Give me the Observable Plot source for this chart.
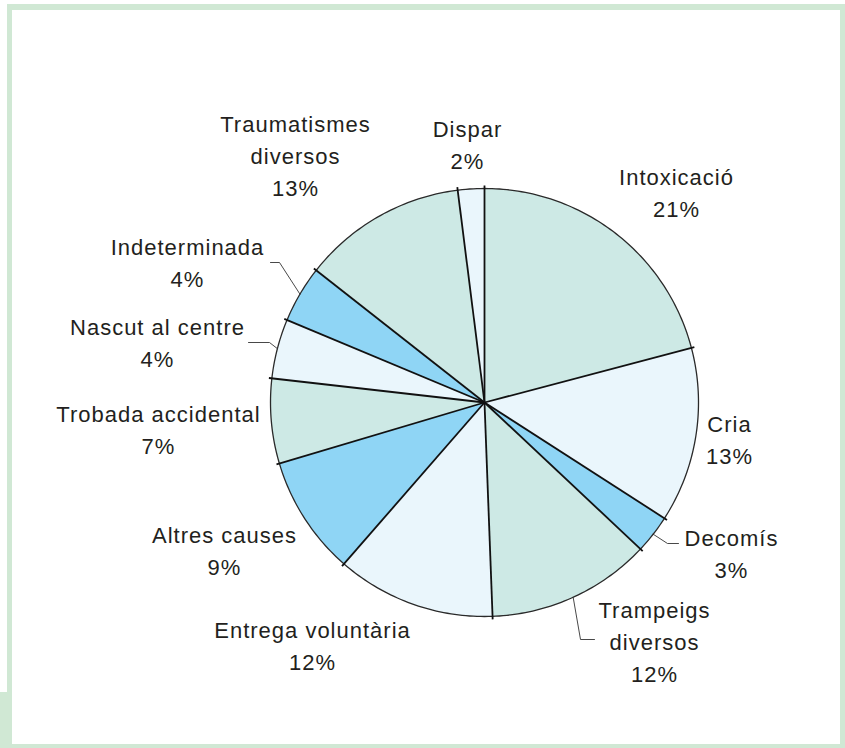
<!DOCTYPE html>
<html><head><meta charset="utf-8">
<script src="https://cdn.jsdelivr.net/npm/d3@7"></script>
<script src="https://cdn.jsdelivr.net/npm/@observablehq/plot@0.6"></script>
<style>
body{margin:0;background:#fff;}
#wrap{position:relative;width:845px;height:748px;overflow:hidden;background:#fff;}
.fr{position:absolute;background:#d0e8d4;}
#chart{position:absolute;left:0;top:0;}
#chart svg text{letter-spacing:1px;}
</style></head><body>
<div id="wrap">
  <div id="chart"></div>
  <div class="fr" style="left:7px;top:4px;width:838px;height:6px"></div>
  <div class="fr" style="left:7px;top:4px;width:5px;height:744px"></div>
  <div class="fr" style="left:0px;top:692px;width:12px;height:56px"></div>
  <div class="fr" style="left:840px;top:4px;width:5px;height:744px"></div>
  <div class="fr" style="left:7px;top:744px;width:838px;height:4px"></div>
</div>
<script>
// ---- data ----
const categories = ["Intoxicació","Cria","Decomís","Trampeigs diversos","Entrega voluntària","Altres causes","Trobada accidental","Nascut al centre","Indeterminada","Traumatismes diversos","Dispar"];
const values = [20.9, 13.2, 2.9, 12.4, 12.0, 9.0, 6.4, 4.5, 4.3, 12.4, 2.0];
const percentLabels = ["21%","13%","3%","12%","12%","9%","7%","4%","4%","13%","2%"];
const labelLines = ["Intoxicació","Cria","Decomís","Trampeigs\ndiversos","Entrega voluntària","Altres causes","Trobada accidental","Nascut al centre","Indeterminada","Traumatismes\ndiversos","Dispar"];
const sliceColors = ["#cde9e5","#eaf6fc","#8fd5f5","#cde9e5","#eaf6fc","#8fd5f5","#cde9e5","#eaf6fc","#8fd5f5","#cde9e5","#eaf6fc"];

// ---- layout ----
const W = 845, H = 748;
const cx = 484, cy = 402, R = 214;
const labelPos = [[676,190],[729,437],[731,551],[654,639],[312,643],[224,548],[158,427],[157,340],[187,260],[295,153],[467,142]];
const leaderBends = {2:[[667,543],[678,543]], 3:[[580,639],[594,639]], 7:[[269,342],[248,342]], 8:[[279,262],[270,262]]};

const arcs = d3.pie().sort(null).value(d => d)(values);
const px = (a, r) => cx + r * Math.sin(a);
const py = (a, r) => cy - r * Math.cos(a);

const sliceRows = [];
arcs.forEach((s, i) => {
  sliceRows.push({i, x: cx, y: cy, color: sliceColors[i]});
  const n = Math.max(2, Math.ceil((s.endAngle - s.startAngle) / 0.01));
  for (let k = 0; k <= n; k++) {
    const a = s.startAngle + (s.endAngle - s.startAngle) * k / n;
    sliceRows.push({i, x: px(a, R), y: py(a, R), color: sliceColors[i]});
  }
});
const ringRows = d3.range(0, 361).map(d => {
  const a = d * Math.PI / 180;
  return {x: px(a, R), y: py(a, R)};
});
const seps = arcs.map(s => ({a: s.startAngle}));
const leaderRows = [];
Object.entries(leaderBends).forEach(([k, pts]) => {
  const s = arcs[+k], m = (s.startAngle + s.endAngle) / 2;
  leaderRows.push({k, x: px(m, R), y: py(m, R)});
  pts.forEach(p => leaderRows.push({k, x: p[0], y: p[1]}));
});
const labels = categories.map((c, i) => ({
  x: labelPos[i][0], y: labelPos[i][1], text: labelLines[i] + "\n" + percentLabels[i]
}));

const chart = Plot.plot({
  width: W, height: H, margin: 0,
  x: {domain: [0, W], range: [0, W], axis: null},
  y: {domain: [0, H], range: [0, H], axis: null},
  color: {type: "identity"},
  style: {background: "transparent", fontFamily: "'Liberation Sans', Arial, sans-serif"},
  marks: [
    Plot.line(sliceRows, {x: "x", y: "y", z: "i", fill: "color", stroke: "none", curve: "linear-closed"}),
    Plot.line(ringRows, {x: "x", y: "y", stroke: "#2a2a2a", strokeWidth: 1.3, fill: "none", curve: "linear-closed"}),
    Plot.link(seps, {x1: () => cx, y1: () => cy, x2: d => px(d.a, R + 3), y2: d => py(d.a, R + 3), stroke: "#111", strokeWidth: 1.8}),
    Plot.line(leaderRows, {x: "x", y: "y", z: "k", stroke: "#333", strokeWidth: 0.9}),
    Plot.text(labels, {x: "x", y: "y", text: "text", fontSize: 22, lineHeight: 1.45, fill: "#231f20", textAnchor: "middle"})
  ]
});
document.getElementById("chart").appendChild(chart);
</script>
</body></html>
